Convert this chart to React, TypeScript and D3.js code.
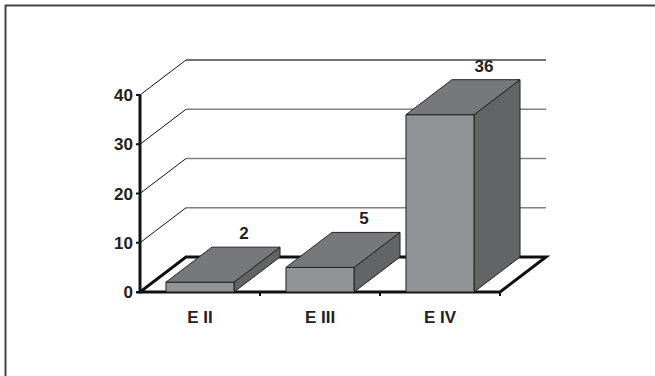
import React from "react";
import * as d3 from "d3";

const categories = ["E II", "E III", "E IV"];
const values = [2, 5, 36];
const yTicks = [0, 10, 20, 30, 40];

const W = 655;
const H = 376;
const DX = 46;
const DY = 35;

export default function App() {
  const x = d3
    .scaleBand<string>()
    .domain(categories)
    .range([140, 500])
    .paddingInner(0.433)
    .paddingOuter(0.2165);
  const y = d3.scaleLinear().domain([0, 40]).range([292, 95]);
  const x0 = 140;
  const x1 = 500;
  const y0 = y(0);
  const font = "'Liberation Sans', Arial, sans-serif";

  const pts = (arr: [number, number][]) => arr.map((p) => p.join(",")).join(" ");

  return (
    <svg
      width={W}
      height={H}
      style={{ position: "absolute", left: 0, top: 0, background: "#fff" }}
    >
      {/* frame */}
      <line x1={5} y1={5.5} x2={W} y2={5.5} stroke="#444" strokeWidth={2} />
      <line x1={5.5} y1={5} x2={5.5} y2={H} stroke="#444" strokeWidth={2} />

      {/* gridlines */}
      {yTicks.slice(1).map((t) => (
        <g key={"g" + t}>
          <line x1={x0} y1={y(t)} x2={x0 + DX} y2={y(t) - DY} stroke="#111" strokeWidth={1} />
          <line
            x1={x0 + DX}
            y1={y(t) - DY}
            x2={x1 + DX}
            y2={y(t) - DY}
            stroke={t === 40 ? "#444" : "#808080"}
            strokeWidth={1.5}
          />
        </g>
      ))}

      {/* floor */}
      <polygon
        points={pts([
          [x0, y0],
          [x1, y0],
          [x1 + DX, y0 - DY],
          [x0 + DX, y0 - DY],
        ])}
        fill="#fff"
        stroke="#111"
        strokeWidth={3}
        strokeLinejoin="miter"
      />
      {/* category ticks */}
      {[1, 2, 3].map((i) => (
        <line
          key={"ct" + i}
          x1={x0 + i * x.step()}
          y1={y0}
          x2={x0 + i * x.step()}
          y2={y0 + 4}
          stroke="#111"
          strokeWidth={2}
        />
      ))}

      {/* y axis */}
      <line x1={x0} y1={y(40)} x2={x0} y2={y0 + 1.5} stroke="#111" strokeWidth={3} />
      {yTicks.map((t) => (
        <g key={"t" + t}>
          <line x1={x0 - 4} y1={y(t)} x2={x0} y2={y(t)} stroke="#111" strokeWidth={2} />
          <text
            x={x0 - 7}
            y={y(t) + 6}
            textAnchor="end"
            fontFamily={font}
            fontWeight="bold"
            fontSize={17}
            fill="#222"
          >
            {t}
          </text>
        </g>
      ))}

      {/* bars */}
      {categories.map((c, i) => {
        const bx = x(c)!;
        const bw = x.bandwidth();
        const top = y(values[i]);
        const front: [number, number][] = [
          [bx, y0],
          [bx + bw, y0],
          [bx + bw, top],
          [bx, top],
        ];
        const topFace: [number, number][] = [
          [bx, top],
          [bx + bw, top],
          [bx + bw + DX, top - DY],
          [bx + DX, top - DY],
        ];
        const side: [number, number][] = [
          [bx + bw, y0],
          [bx + bw + DX, y0 - DY],
          [bx + bw + DX, top - DY],
          [bx + bw, top],
        ];
        return (
          <g key={c} stroke="#222" strokeWidth={1} strokeLinejoin="round">
            <polygon points={pts(side)} fill="#636466" />
            <polygon points={pts(front)} fill="#929396" />
            <polygon points={pts(topFace)} fill="#77787b" />
            <text
              x={bx + bw / 2 + DX - 2}
              y={top - DY - 8}
              textAnchor="middle"
              fontFamily={font}
              fontWeight="bold"
              fontSize={17}
              fill="#222"
              stroke="none"
            >
              {values[i]}
            </text>
            <text
              x={bx + bw / 2}
              y={323}
              textAnchor="middle"
              fontFamily={font}
              fontWeight="bold"
              fontSize={17}
              fill="#222"
              stroke="none"
            >
              {c}
            </text>
          </g>
        );
      })}
    </svg>
  );
}
